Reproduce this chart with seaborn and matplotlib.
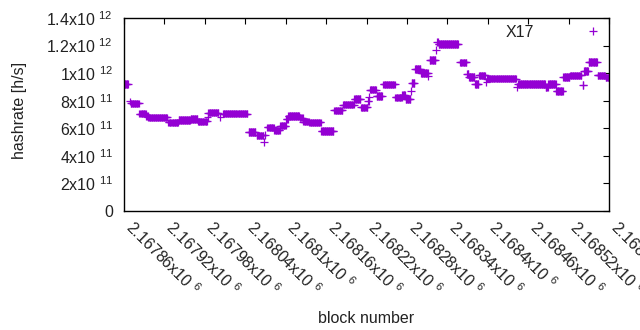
import numpy as np
import pandas as pd
import matplotlib
matplotlib.use("Agg")
import matplotlib.pyplot as plt
import matplotlib.ticker as mticker
import seaborn as sns

# Runs of blocks with (roughly) constant hashrate
run_start = [2167860, 2167869, 2167870, 2167883, 2167893, 2167896, 2167926, 2167941, 2167959, 2167970,
             2167984, 2167985, 2167986, 2168003, 2168007, 2168045, 2168057, 2168068, 2168070, 2168073,
             2168083, 2168092, 2168101, 2168104, 2168106, 2168121, 2168126, 2168135, 2168153, 2168172,
             2168185, 2168202, 2168212, 2168222, 2168224, 2168225, 2168235, 2168245, 2168263, 2168273,
             2168278, 2168286, 2168287, 2168292, 2168301, 2168312, 2168314, 2168323, 2168325, 2168327,
             2168359, 2168369, 2168372, 2168381, 2168387, 2168398, 2168399, 2168443, 2168445, 2168486,
             2168490, 2168502, 2168512, 2168522, 2168541, 2168543, 2168550, 2168563, 2168575]
run_end = [2167866, 2167869, 2167882, 2167892, 2167895, 2167924, 2167940, 2167958, 2167969, 2167983,
           2167984, 2167985, 2168000, 2168003, 2168043, 2168055, 2168067, 2168068, 2168070, 2168082,
           2168091, 2168100, 2168103, 2168105, 2168120, 2168125, 2168134, 2168152, 2168171, 2168184,
           2168201, 2168211, 2168221, 2168223, 2168224, 2168234, 2168243, 2168262, 2168272, 2168277,
           2168285, 2168286, 2168291, 2168300, 2168311, 2168312, 2168322, 2168323, 2168326, 2168356,
           2168368, 2168371, 2168380, 2168386, 2168396, 2168398, 2168442, 2168443, 2168485, 2168489,
           2168501, 2168511, 2168521, 2168539, 2168542, 2168549, 2168562, 2168574, 2168580]
run_hashrate_e11 = [9.21, 7.95, 7.81, 7.06, 6.90, 6.79, 6.43, 6.58, 6.68, 6.50,
                    6.80, 7.10, 7.14, 6.80, 7.06, 5.71, 5.48, 5.00, 5.50, 6.06,
                    5.85, 6.20, 6.69, 6.90, 6.91, 6.77, 6.49, 6.43, 5.82, 7.30,
                    7.72, 8.13, 7.52, 8.00, 8.30, 8.80, 8.32, 9.19, 8.24, 8.41,
                    8.12, 8.70, 9.28, 10.32, 10.01, 9.77, 10.97, 11.70, 12.25, 12.13,
                    10.78, 9.93, 9.70, 9.21, 9.83, 9.35, 9.60, 9.00, 9.23, 8.96,
                    9.22, 8.70, 9.72, 9.84, 9.14, 10.15, 10.79, 9.84, 9.68]

x_ticks = [2167860 + 60 * i for i in range(13)]
y_ticks = [0, 2e11, 4e11, 6e11, 8e11, 1e12, 1.2e12, 1.4e12]
series_name = "X17"

blocks = np.concatenate([np.arange(s, e + 1) for s, e in zip(run_start, run_end)])
rates = np.concatenate([np.full(e - s + 1, v * 1e11) for s, e, v in zip(run_start, run_end, run_hashrate_e11)])
df = pd.DataFrame({"block": blocks, "hashrate": rates, "series": series_name})

sns.set_theme(style="white")
plt.rcParams["font.family"] = ["Liberation Sans", "DejaVu Sans"]
plt.rcParams["mathtext.fontset"] = "custom"
plt.rcParams["mathtext.rm"] = "Liberation Sans"
plt.rcParams["mathtext.it"] = "Liberation Sans"
plt.rcParams["mathtext.default"] = "regular"

FS = 11.5
TXT = "#222222"

fig = plt.figure(figsize=(6.4, 3.3), dpi=100)
ax = fig.add_axes([124 / 640, 1 - 211 / 330, (609 - 124) / 640, (211 - 18) / 330])

color = "#9400D3"
sns.scatterplot(data=df, x="block", y="hashrate", hue="series", palette=[color],
                marker="+", s=30, linewidth=0.9, ax=ax)

ax.set_xlim(2167860, 2168580)
ax.set_ylim(0, 1.4e12)
ax.set_xticks(x_ticks)
ax.set_yticks(y_ticks)


def yfmt(v, pos):
    if v == 0:
        return "0"
    e = int(np.floor(np.log10(v) + 1e-9))
    m = v / 10 ** e
    return f"{m:g}x10 $^{{{e}}}$"


def xfmt(v, pos):
    return f"{v / 1e6:g}x10 $^{{6}}$"


ax.yaxis.set_major_formatter(mticker.FuncFormatter(yfmt))
ax.xaxis.set_major_formatter(mticker.FuncFormatter(xfmt))

ax.tick_params(axis="both", direction="in", length=4, width=0.8, color="black",
               top=True, right=True, labelsize=FS, labelcolor=TXT)
ax.tick_params(axis="y", pad=8)
ax.tick_params(axis="x", pad=13)
for lab in ax.get_xticklabels():
    lab.set_rotation(-45)
    lab.set_ha("left")
    lab.set_va("baseline")
    lab.set_rotation_mode("anchor")

for sp in ax.spines.values():
    sp.set_color("black")
    sp.set_linewidth(1.0)

ax.set_xlabel("block number", fontsize=FS, color=TXT)
ax.set_ylabel("hashrate [h/s]", fontsize=FS, color=TXT)
ax.xaxis.set_label_coords(0.5, -0.52)
ax.yaxis.set_label_coords(-0.2, 0.52)

leg = ax.legend(loc="upper right", bbox_to_anchor=(1.0, 0.965), frameon=False,
                markerfirst=False, handlelength=2.0, handletextpad=2.7,
                borderpad=0, borderaxespad=0, fontsize=FS, markerscale=1.0)
for t in leg.get_texts():
    t.set_color(TXT)

fig.savefig("out.png", dpi=100)
